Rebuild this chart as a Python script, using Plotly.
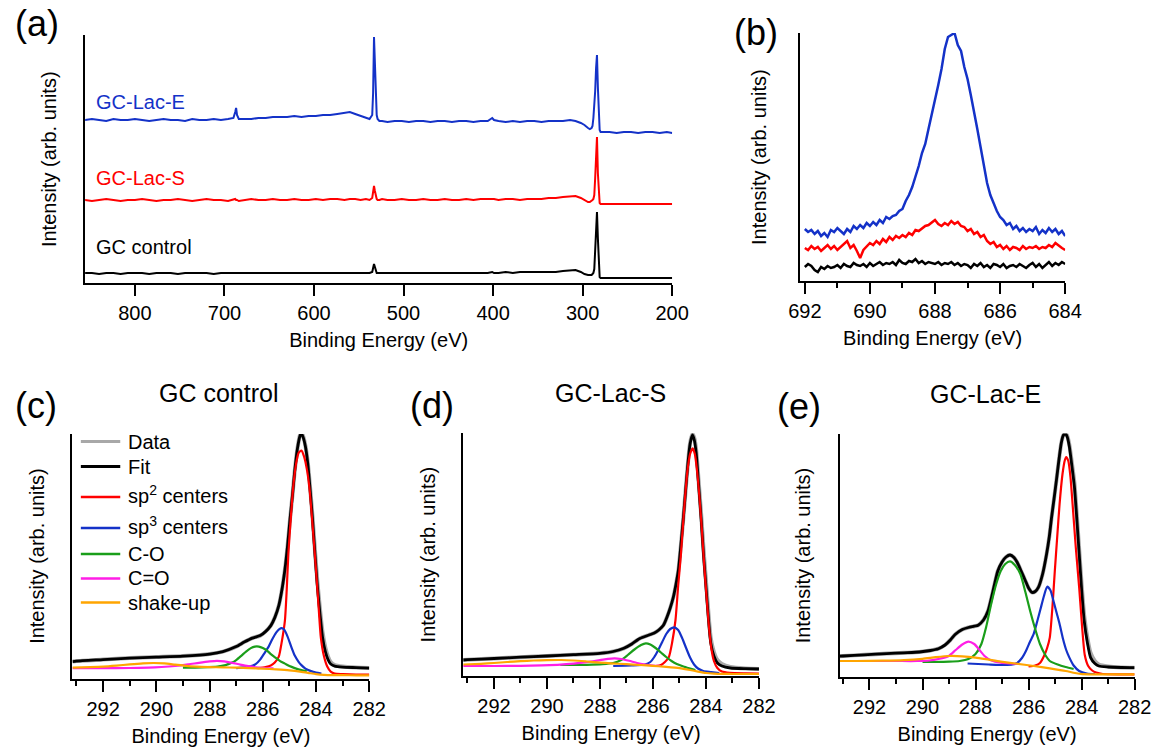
import plotly.graph_objects as go

W, H = 1168, 747
FONT = "Arial, 'Liberation Sans', sans-serif"

# ---------------- (a) survey spectra ----------------
survey_be = [856, 848, 840, 832, 824, 816, 808, 800, 792, 784,
             776, 768, 760, 752, 744, 736, 728, 720, 712, 704,
             696, 690, 688, 687, 686, 684, 678, 670, 662, 654,
             646, 638, 630, 622, 614, 606, 598, 590, 582, 574,
             566, 560, 554, 548, 542, 538, 535, 534, 533, 532,
             531, 530, 529, 527, 524, 518, 510, 502, 494, 486,
             478, 470, 462, 454, 446, 438, 430, 422, 414, 406,
             401, 399, 394, 386, 378, 370, 362, 354, 346, 338,
             330, 322, 314, 308, 302, 298, 294, 292, 290, 289,
             288, 287, 286, 285, 284, 283, 282, 281, 280, 276,
             270, 262, 254, 246, 238, 230, 222, 214, 206, 200]
survey_lac_e = [163, 164, 163, 162, 164, 163, 163, 164, 163, 162,
                163, 164, 163, 163, 162, 164, 163, 163, 164, 163,
                164, 165, 171, 175, 168, 164, 164, 164, 165, 165,
                166, 166, 166, 167, 166, 167, 167, 168, 168, 169,
                170, 171, 169, 167, 165, 164, 168, 190, 246, 222,
                188, 168, 164, 162, 162, 161, 162, 162, 161, 162,
                162, 161, 162, 162, 161, 162, 162, 161, 162, 162,
                165, 163, 162, 161, 162, 161, 162, 162, 161, 162,
                162, 162, 163, 162, 160, 158, 155, 154, 155, 157,
                165, 175, 192, 215, 228, 196, 163, 153, 151, 151,
                151, 150, 151, 151, 150, 151, 151, 150, 151, 150]
survey_lac_s = [83, 82, 83, 84, 83, 82, 83, 83, 84, 83,
                82, 83, 83, 84, 83, 82, 83, 84, 83, 83,
                82, 83, 84, 83, 83, 82, 83, 84, 83, 83,
                84, 83, 83, 84, 83, 83, 84, 83, 84, 84,
                83, 84, 84, 83, 84, 83, 85, 90, 97, 92,
                86, 84, 83, 83, 84, 83, 83, 84, 83, 83,
                84, 83, 83, 84, 83, 83, 84, 83, 84, 84,
                84, 84, 83, 84, 84, 83, 84, 84, 84, 85,
                85, 86, 87, 87, 85, 83, 81, 81, 82, 83,
                84, 88, 105, 132, 146, 110, 85, 80, 79, 79,
                79, 79, 79, 79, 79, 79, 79, 79, 79, 79]
survey_gc = [10, 10, 9, 10, 10, 9, 10, 10, 10, 9,
             10, 10, 10, 9, 10, 10, 10, 10, 9, 10,
             10, 10, 10, 10, 10, 10, 10, 10, 10, 10,
             10, 10, 10, 10, 10, 10, 10, 10, 10, 10,
             10, 10, 10, 10, 10, 10, 11, 14, 19, 16,
             12, 10, 10, 10, 10, 10, 10, 10, 10, 10,
             10, 10, 10, 10, 10, 10, 10, 10, 10, 10,
             11, 10, 10, 11, 10, 11, 11, 11, 11, 11,
             11, 12, 13, 13, 11, 9, 8, 8, 8, 9,
             10, 14, 30, 58, 71, 45, 12, 6, 5, 5,
             5, 5, 5, 5, 5, 5, 5, 5, 5, 5]
survey_ticks = [800, 700, 600, 500, 400, 300, 200]

# ---------------- (b) F 1s region ----------------
f1s_be = [692.0, 691.9, 691.8, 691.7, 691.6, 691.5, 691.4, 691.3, 691.2, 691.1, 691.0,
          690.9, 690.8, 690.7, 690.6, 690.5, 690.4, 690.3, 690.2, 690.1, 690.0,
          689.9, 689.8, 689.7, 689.6, 689.5, 689.4, 689.3, 689.2, 689.1, 689.0,
          688.9, 688.8, 688.7, 688.6, 688.5, 688.4, 688.3, 688.2, 688.1, 688.0,
          687.9, 687.8, 687.7, 687.6, 687.5, 687.4, 687.3, 687.2, 687.1, 687.0,
          686.9, 686.8, 686.7, 686.6, 686.5, 686.4, 686.3, 686.2, 686.1, 686.0,
          685.9, 685.8, 685.7, 685.6, 685.5, 685.4, 685.3, 685.2, 685.1, 685.0,
          684.9, 684.8, 684.7, 684.6, 684.5, 684.4, 684.3, 684.2, 684.1, 684.0]
f1s_lac_e = [52, 49, 51, 47, 50, 45, 48, 44, 51, 49, 53,
             50, 47, 52, 49, 55, 52, 56, 53, 58, 55,
             59, 56, 61, 58, 64, 62, 65, 66, 70, 72,
             80, 86, 94, 104, 115, 128, 137, 152, 166, 180,
             196, 212, 232, 244, 246, 248, 236, 230, 214, 202,
             186, 170, 152, 134, 114, 98, 86, 78, 70, 64,
             61, 56, 58, 52, 55, 50, 53, 49, 52, 50,
             54, 47, 51, 48, 53, 49, 52, 47, 50, 45]
f1s_lac_s = [33, 31, 35, 32, 34, 30, 33, 36, 32, 35, 31,
             34, 38, 40, 33, 36, 30, 23, 31, 35, 38,
             36, 40, 37, 42, 39, 44, 41, 45, 43, 46,
             44, 48, 46, 51, 50, 53, 55, 56, 59, 61,
             57, 55, 58, 56, 60, 57, 59, 55, 54, 50,
             52, 47, 49, 44, 46, 40, 37, 39, 34, 36,
             32, 35, 31, 34, 33, 31, 35, 32, 34, 33,
             35, 32, 34, 33, 36, 34, 38, 35, 33, 31]
f1s_gc = [14, 17, 15, 11, 9, 14, 12, 15, 13, 14, 16,
          13, 17, 15, 14, 18, 16, 15, 17, 14, 18,
          15, 17, 19, 16, 18, 17, 19, 16, 21, 18,
          17, 20, 19, 22, 18, 20, 17, 19, 18, 17,
          19, 16, 18, 17, 19, 16, 18, 15, 17, 16,
          13, 17, 15, 18, 14, 16, 13, 17, 16, 14,
          17, 13, 15, 16, 14, 17, 15, 13, 16, 18,
          14, 17, 13, 16, 19, 15, 18, 16, 19, 17]
f1s_ticks = [692, 690, 688, 686, 684]
f1s_minor = [691, 689, 687, 685]

# ---------------- (c)-(e) C 1s fits ----------------
c1s_ticks = [292, 290, 288, 286, 284, 282]
c1s_minor = [293, 291, 289, 287, 285, 283]

# (c) GC control
c_fit_x = [293.15, 293.0, 292.0, 291.0, 290.0, 289.0, 288.0, 287.5, 287.0, 286.7,
           286.4, 286.1, 285.9, 285.7, 285.55, 285.4, 285.3, 285.17, 285.07, 284.98,
           284.88, 284.8, 284.7, 284.6, 284.55, 284.48, 284.4, 284.31, 284.22, 284.13,
           284.04, 283.95, 283.85, 283.76, 283.65, 283.55, 283.45, 283.3, 283.0, 282.5, 282.0]
c_fit_y = [17, 17.5, 19, 20.5, 21.5, 22.5, 24.5, 27, 32, 36.5,
           40.5, 43, 47, 53, 61, 73, 86, 109, 133, 159,
           185, 208, 230, 243, 245, 241, 232, 215, 188, 158,
           124, 92, 64, 42, 27, 19, 14.5, 12.5, 11.5, 11, 10.5]
c_data_y = [17, 17.5, 19, 20.5, 21.5, 22.5, 24.5, 27, 32, 36.5,
            40.5, 43, 47, 53, 61, 73, 86, 109, 133, 159,
            185, 208, 230, 244, 246, 242, 233, 216, 190, 161,
            128, 97, 69, 47, 31, 22, 16.5, 13.5, 12, 11, 10.5]
c_sp2_x = [286.2, 285.9, 285.7, 285.55, 285.4, 285.3, 285.17, 285.1, 285.04, 284.95,
           284.86, 284.75, 284.65, 284.55, 284.45, 284.35, 284.25, 284.15, 284.0, 283.9,
           283.82, 283.7, 283.58, 283.45, 283.3, 283.0, 282.5, 282.0]
c_sp2_y = [10.5, 11.5, 13, 16, 22, 35, 58, 90, 125, 160,
           191, 215, 226, 228, 222, 210, 191, 160, 108, 70,
           41, 22, 12, 7, 5, 4.5, 4, 4]
c_sp3_x = [287.0, 286.5, 286.27, 286.1, 285.95, 285.78, 285.65, 285.5, 285.38, 285.29,
           285.2, 285.07, 284.92, 284.8, 284.65, 284.55, 284.4, 284.19, 284.0, 283.8]
c_sp3_y = [10.5, 12, 14.5, 19, 25, 32, 39, 46, 49.5, 50.5,
           49, 42, 31, 23, 16.5, 13.5, 10, 7.5, 6, 5]
c_co_x = [289.0, 288.3, 287.7, 287.4, 287.15, 287.0, 286.8, 286.63, 286.45, 286.3,
          286.15, 286.0, 285.84, 285.7, 285.53, 285.35, 285.17, 285.0, 284.8, 284.55, 284.35]
c_co_y = [11, 11.3, 12, 13.5, 16, 18.5, 23, 27, 30.5, 32,
          32, 30.5, 28, 24.5, 21, 17.5, 15, 12.5, 10.5, 8.5, 7.5]
c_cdo_x = [293.15, 292.0, 291.0, 290.3, 289.8, 289.3, 288.8, 288.4, 288.0, 287.73,
           287.45, 287.15, 286.85, 286.55, 286.25, 285.95, 285.6]
c_cdo_y = [10.5, 10.5, 10.6, 11, 11.6, 12.6, 14.2, 15.8, 17.2, 17.8,
           17.3, 15.8, 14, 12.4, 11.3, 10.6, 10.2]
c_sk_x = [293.15, 292.5, 292.0, 291.5, 291.0, 290.5, 290.1, 289.7, 289.3, 288.9,
          288.5, 288.0, 287.5, 287.0, 286.5, 286.0, 285.5, 285.0, 284.6, 284.3,
          284.0, 283.7, 283.3, 283.0, 282.5, 282.0]
c_sk_y = [11, 11.5, 12, 13, 14.2, 15.2, 15.6, 15.2, 14, 12.8,
          12, 11.5, 11.2, 11, 10.5, 10, 9.2, 8.2, 7, 5.8,
          4.5, 3.8, 3.5, 3.4, 3.3, 3.2]

# (d) GC-Lac-S
d_fit_x = [293.16, 293.0, 292.0, 291.0, 290.0, 289.0, 288.0, 287.5, 287.1, 286.8,
           286.5, 286.15, 285.95, 285.78, 285.6, 285.47, 285.35, 285.23, 285.13, 285.04,
           284.95, 284.86, 284.77, 284.68, 284.6, 284.51, 284.44, 284.37, 284.28, 284.18,
           284.09, 284.0, 283.91, 283.82, 283.7, 283.57, 283.4, 283.08, 282.5, 282.0]
d_fit_y = [16, 16.3, 17.5, 18.8, 20, 21.3, 22.7, 24.5, 27.7, 32,
           37.5, 41, 43, 46, 51, 59, 68, 79, 92, 106,
           130, 156, 185, 213, 232, 241, 236, 223, 192, 156,
           120, 89, 58, 33, 20, 13, 10, 8, 7.3, 7]
d_data_y = [16, 16.3, 17.5, 18.8, 20, 21.3, 22.7, 24.5, 27.7, 32,
            37.5, 41, 43, 46, 51, 59, 68, 79, 92, 106,
            130, 156, 185, 213, 233, 242, 238, 226, 196, 161,
            126, 95, 64, 38, 24, 16, 12, 9, 7.5, 7]
d_sp2_x = [285.9, 285.7, 285.55, 285.4, 285.28, 285.15, 285.05, 284.95, 284.9, 284.8,
           284.7, 284.6, 284.5, 284.42, 284.34, 284.25, 284.16, 284.07, 283.98, 283.89,
           283.8, 283.7, 283.57, 283.4, 283.1, 282.5, 282.0]
d_sp2_y = [10, 11, 14, 19, 33, 56, 90, 120, 139, 175,
           205, 222, 227.7, 222, 206, 180, 148, 112, 80, 50,
           28, 15, 8, 4.5, 3.2, 2.7, 2.5]
d_sp3_x = [287.5, 286.8, 286.3, 286.1, 285.95, 285.8, 285.65, 285.5, 285.35, 285.19,
           285.05, 284.9, 284.75, 284.6, 284.45, 284.3, 284.1, 283.8, 283.5]
d_sp3_y = [10, 10.5, 11.5, 14, 19, 26, 34, 42, 47, 48.7,
           46, 38, 28, 18.5, 11.5, 7.5, 5, 4, 3]
d_co_x = [289.5, 288.5, 287.9, 287.5, 287.2, 286.95, 286.7, 286.45, 286.27, 286.1,
          285.9, 285.7, 285.5, 285.3, 285.1, 284.85, 284.6, 284.4]
d_co_y = [11, 11.2, 11.8, 13, 16, 21, 26.5, 31, 32.7, 31.5,
          28, 23.5, 19, 15, 12, 9.5, 7.5, 6]
d_cdo_x = [293.16, 292.0, 291.0, 290.2, 289.6, 289.0, 288.5, 288.0, 287.7, 287.44,
           287.2, 286.9, 286.6, 286.3, 286.0, 285.7]
d_cdo_y = [10, 10, 10.2, 10.6, 11.2, 12.3, 13.8, 15.8, 17.2, 17.7,
           17, 15.2, 13, 11.5, 10.5, 10]
d_sk_x = [293.16, 292.5, 292.0, 291.5, 291.0, 290.5, 290.0, 289.46, 289.0, 288.5,
          288.0, 287.6, 287.0, 286.5, 286.0, 285.6, 285.0, 284.6, 284.3, 284.0,
          283.7, 283.3, 283.0, 282.5, 282.0]
d_sk_y = [11.5, 12.2, 13, 14, 14.8, 15.5, 15.9, 16, 15.5, 14.5,
          13.4, 12.7, 11.8, 11, 10.2, 9.3, 7.8, 6, 4.4, 3,
          2.4, 2.1, 2, 2, 2]

# (e) GC-Lac-E
e_fit_x = [293.13, 293.0, 292.2, 291.35, 290.7, 290.12, 289.7, 289.4, 289.15, 288.95,
           288.76, 288.5, 288.27, 288.05, 287.9, 287.7, 287.53, 287.35, 287.16, 287.0,
           286.85, 286.7, 286.55, 286.43, 286.28, 286.12, 286.0, 285.87, 285.75, 285.63,
           285.47, 285.32, 285.22, 285.13, 285.04, 284.95, 284.86, 284.77, 284.7, 284.62,
           284.54, 284.46, 284.37, 284.27, 284.18, 284.09, 284.0, 283.9, 283.78, 283.66,
           283.5, 283.35, 283.0, 282.5, 282.0]
e_fit_y = [20.8, 21, 22.2, 23.4, 24.2, 25, 26.5, 28.3, 32, 37,
           42.8, 47.5, 49.5, 50.8, 51.8, 57, 66, 85, 106, 115,
           120, 122, 119.5, 114.7, 106, 96.3, 89, 84.6, 85.5, 89.6,
           103, 123, 140, 160, 178, 196.6, 216, 233.4, 241, 244,
           240, 230, 212, 190, 158, 123, 88, 56, 34, 19.4,
           13.5, 11, 10, 9.5, 9.3]
e_data_y = [20.8, 21, 22.2, 23.4, 24.2, 25, 26.5, 28.3, 32, 37,
            42.8, 47.5, 49.5, 50.8, 51.8, 57, 66, 85, 106, 115,
            120, 122, 119.5, 114.7, 106, 96.3, 89, 84.6, 85.5, 89.6,
            103, 123, 140, 160, 178, 196.6, 216, 233.4, 241, 244.5,
            241, 232, 215, 194, 162, 127, 93, 61, 39, 24,
            16, 12.5, 10.5, 9.5, 9.3]
e_sp2_x = [286.0, 285.75, 285.57, 285.4, 285.3, 285.2, 285.1, 285.01, 284.92, 284.83,
           284.72, 284.63, 284.58, 284.5, 284.42, 284.34, 284.22, 284.09, 283.98, 283.88,
           283.75, 283.6, 283.45, 283.2, 282.5, 282.0]
e_sp2_y = [10.5, 11.5, 14, 22, 29, 39.4, 70, 106, 140, 173,
           203, 217, 220, 216, 200, 173, 130, 89, 50, 22,
           11, 6.5, 4.5, 3, 2.7, 2.7]
e_sp3_x = [288.3, 287.5, 286.9, 286.6, 286.43, 286.25, 286.1, 285.95, 285.81, 285.68,
           285.55, 285.42, 285.3, 285.18, 285.05, 284.93, 284.83, 284.7, 284.58, 284.46,
           284.3, 284.09, 283.8, 283.5]
e_sp3_y = [13.5, 12.5, 12, 12.5, 14, 19, 26, 35, 42.8, 55,
           68, 81, 90.3, 87, 75, 63, 53, 38, 27, 19.4,
           11.5, 6, 3.5, 3]
e_co_x = [290.0, 289.0, 288.6, 288.27, 288.0, 287.78, 287.6, 287.41, 287.22, 287.05,
          286.88, 286.7, 286.52, 286.31, 286.12, 285.94, 285.75, 285.57, 285.38, 285.2,
          284.9, 284.6, 284.3]
e_co_y = [15, 15.4, 16, 18, 23, 33, 50, 73, 93, 106,
          113, 115.7, 112, 103, 85, 66, 48, 33, 22.5, 16,
          12.5, 10, 8]
e_cdo_x = [293.13, 292.0, 291.0, 290.2, 289.75, 289.4, 289.01, 288.75, 288.5, 288.27,
           288.05, 287.85, 287.66, 287.4, 287.05, 286.7, 286.4]
e_cdo_y = [16, 16, 16, 16, 16.5, 18, 21, 27, 32.5, 35.4,
           33, 27, 21, 16.5, 14.3, 13.5, 13]
e_sk_x = [293.13, 292.5, 291.5, 290.7, 290.0, 289.5, 289.0, 288.5, 288.0, 287.5,
          287.05, 286.5, 285.8, 285.2, 284.6, 284.25, 283.97, 283.5, 283.0, 282.0]
e_sk_y = [16, 16, 16.3, 16.9, 18.2, 19.8, 21, 20.7, 19.4, 17.3,
          15.4, 13.5, 11, 8.6, 6, 4, 2.9, 2.7, 2.7, 2.7]

legend_names = ["Data", "Fit", "sp<sup>2</sup> centers", "sp<sup>3</sup> centers",
                "C-O", "C=O", "shake-up"]

# ---------------- styling ----------------
BLUE = "#1432c8"
RED = "#ff0000"
BLACK = "#000000"
GRAY = "#a8a8a8"
GREEN = "#1a9e1a"
MAGENTA = "#ff1ee6"
ORANGE = "#ffa500"
comp_colors = [GRAY, BLACK, RED, BLUE, GREEN, MAGENTA, ORANGE]


def fx(p):
    return p / W


def fy(p):
    return 1 - p / H


fig = go.Figure()

# (a)
for yv, col, nm in [(survey_gc, BLACK, "GC control"), (survey_lac_s, RED, "GC-Lac-S"), (survey_lac_e, BLUE, "GC-Lac-E")]:
    fig.add_trace(go.Scatter(x=survey_be, y=yv, mode="lines", xaxis="x", yaxis="y", name=nm,
                             line=dict(color=col, width=2), showlegend=False))
# (b)
for yv, col, nm in [(f1s_gc, BLACK, "GC control"), (f1s_lac_s, RED, "GC-Lac-S"), (f1s_lac_e, BLUE, "GC-Lac-E")]:
    fig.add_trace(go.Scatter(x=f1s_be, y=yv, mode="lines", xaxis="x2", yaxis="y2", name=nm,
                             line=dict(color=col, width=2.5), showlegend=False))

# (c)-(e)
c1s_sets = [
    ("x3", "y3", c_fit_x, c_data_y, c_fit_y, [(c_sp2_x, c_sp2_y), (c_sp3_x, c_sp3_y), (c_co_x, c_co_y), (c_cdo_x, c_cdo_y), (c_sk_x, c_sk_y)]),
    ("x4", "y4", d_fit_x, d_data_y, d_fit_y, [(d_sp2_x, d_sp2_y), (d_sp3_x, d_sp3_y), (d_co_x, d_co_y), (d_cdo_x, d_cdo_y), (d_sk_x, d_sk_y)]),
    ("x5", "y5", e_fit_x, e_data_y, e_fit_y, [(e_sp2_x, e_sp2_y), (e_sp3_x, e_sp3_y), (e_co_x, e_co_y), (e_cdo_x, e_cdo_y), (e_sk_x, e_sk_y)]),
]
for xa, ya, fxs, dys, fys, comps in c1s_sets:
    fig.add_trace(go.Scatter(x=fxs, y=dys, mode="lines", xaxis=xa, yaxis=ya,
                             line=dict(color=GRAY, width=4, shape="spline", smoothing=0.6),
                             name="Data", showlegend=False))
    fig.add_trace(go.Scatter(x=fxs, y=fys, mode="lines", xaxis=xa, yaxis=ya,
                             line=dict(color=BLACK, width=2.8, shape="spline", smoothing=0.6),
                             name="Fit", showlegend=False))
    for (cx, cy), col, nm in zip(comps, comp_colors[2:], legend_names[2:]):
        fig.add_trace(go.Scatter(x=cx, y=cy, mode="lines", xaxis=xa, yaxis=ya,
                                 line=dict(color=col, width=2.2, shape="spline", smoothing=0.6),
                                 name=nm, showlegend=False))


# ---------------- axes ----------------
def xaxis(dom, rng, anchor, tickvals, minor=None):
    d = dict(domain=[fx(dom[0]), fx(dom[1])], range=rng, anchor=anchor,
             showline=True, linecolor="black", linewidth=2, mirror=False,
             ticks="outside", ticklen=11, tickwidth=2, tickcolor="black",
             tickvals=tickvals, ticktext=[str(v) for v in tickvals],
             tickfont=dict(size=20, color="black", family=FONT),
             showgrid=False, zeroline=False, fixedrange=True,
             title=dict(text="Binding Energy (eV)", font=dict(size=20, color="black", family=FONT), standoff=10))
    if minor:
        d["minor"] = dict(tickvals=minor, ticks="outside", ticklen=5, tickwidth=2,
                          tickcolor="black", showgrid=False)
    return d


def yaxis(dom, rng, anchor):
    return dict(domain=[fy(dom[1]), fy(dom[0])], range=rng, anchor=anchor,
                showline=True, linecolor="black", linewidth=2,
                ticks="", showticklabels=False, showgrid=False, zeroline=False, fixedrange=True)


fig.update_layout(
    width=W, height=H, margin=dict(l=0, r=0, t=0, b=0),
    paper_bgcolor="white", plot_bgcolor="white",
    font=dict(family=FONT, size=20, color="black"),
    showlegend=False,
    xaxis=xaxis((75, 677), [855.6, 200], "y", survey_ticks),
    yaxis=yaxis((35, 283), [0, 248], "x"),
    xaxis2=xaxis((808, 1080), [692.15, 684], "y2", f1s_ticks, f1s_minor),
    yaxis2=yaxis((33, 281), [0, 248], "x2"),
    xaxis3=xaxis((62, 366.4), [293.15, 282], "y3", c1s_ticks, c1s_minor),
    yaxis3=yaxis((434, 678.6), [0, 244.6], "x3"),
    xaxis4=xaxis((462.7, 766), [293.16, 282], "y4", c1s_ticks, c1s_minor),
    yaxis4=yaxis((433, 676), [0, 243], "x4"),
    xaxis5=xaxis((848.6, 1151.2), [293.13, 282], "y5", c1s_ticks, c1s_minor),
    yaxis5=yaxis((433.5, 677), [0, 243.5], "x5"),
)

ann = []
shapes = []


def text(x, y, s, size=20, color="black", xanchor="center", yanchor="middle", angle=0):
    ann.append(dict(x=fx(x), y=fy(y), xref="paper", yref="paper", text=s, showarrow=False,
                    xanchor=xanchor, yanchor=yanchor, textangle=angle, borderpad=0,
                    font=dict(size=size, color=color, family=FONT)))


# y-axis titles
for cx, cy in [(38, 159), (766, 157), (25.5, 556), (426.5, 554.5), (811.5, 555)]:
    text(cx, cy, "Intensity (arb. units)", 20, angle=-90)

# panel labels
text(26, 23, "(a)", 36)
text(763, 33, "(b)", 36)
text(25, 405, "(c)", 36)
text(431, 405, "(d)", 36)
text(807, 406, "(e)", 36)
# panel titles
text(212, 393, "GC control", 25)
text(614, 393, "GC-Lac-S", 25)
text(998, 394, "GC-Lac-E", 25)
# survey labels
text(85, 102, "GC-Lac-E", 20, BLUE, xanchor="left")
text(85, 178, "GC-Lac-S", 20, RED, xanchor="left")
text(85, 247, "GC control", 20, BLACK, xanchor="left")

# legend in (c)
leg_rows = [441.6, 466.5, 497, 528, 553.9, 578.4, 602.6]
for name, col, yy in zip(legend_names, comp_colors, leg_rows):
    shapes.append(dict(type="line", xref="paper", yref="paper",
                       x0=fx(70.6), x1=fx(111), y0=fy(yy), y1=fy(yy),
                       line=dict(color=col, width=3 if col in (GRAY, BLACK) else 2.5)))
    text(118, yy - (3 if "sup" in name else 0), name, 20, "black", xanchor="left")

fig.update_layout(annotations=ann, shapes=shapes)

fig.write_html("out.html", config={"displayModeBar": False},
               post_script="document.body.style.margin='0';document.body.style.overflow='hidden';")
